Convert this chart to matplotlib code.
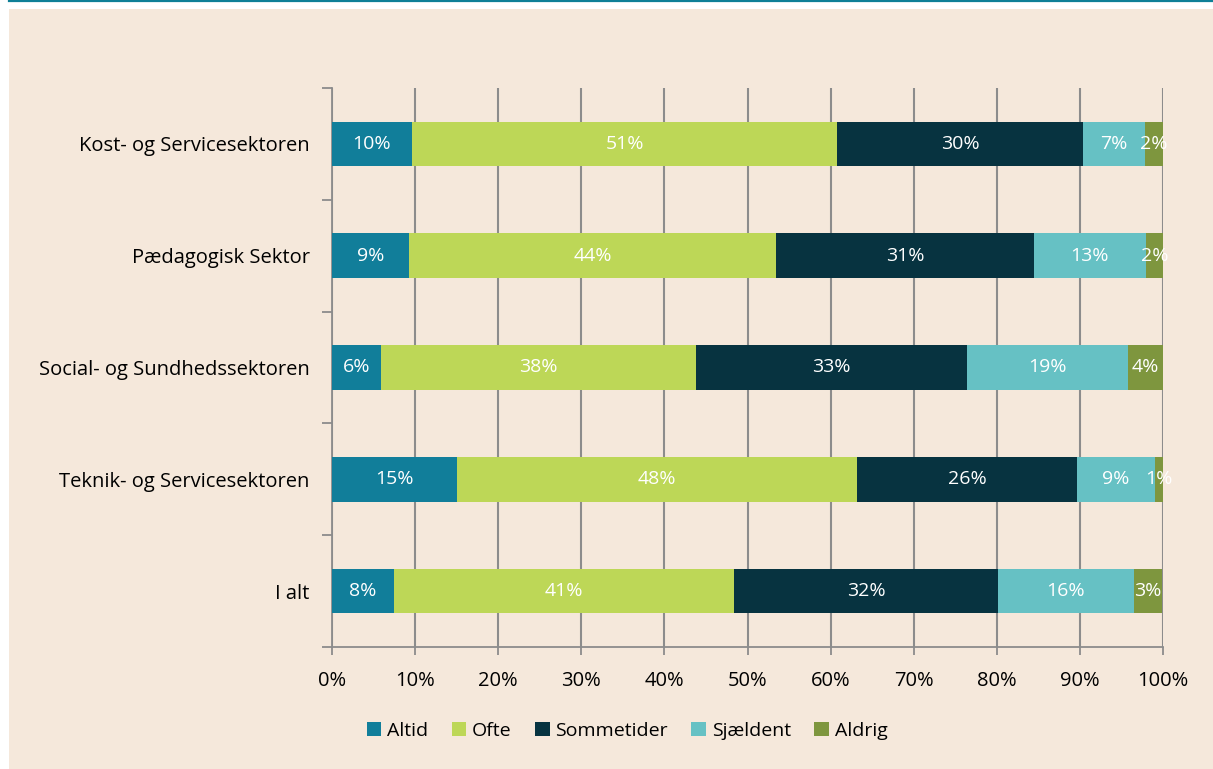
import matplotlib.pyplot as plt
from matplotlib.patches import Rectangle
import numpy as np

plt.rcParams['font.family'] = ['Open Sans', 'DejaVu Sans']

sektorer = ['Kost- og Servicesektoren', 'Pædagogisk Sektor',
            'Social- og Sundhedssektoren', 'Teknik- og Servicesektoren', 'I alt']
svar = ['Altid', 'Ofte', 'Sommetider', 'Sjældent', 'Aldrig']

altid = [9.6, 9.3, 5.9, 15.0, 7.5]
ofte = [51.2, 44.1, 37.9, 48.2, 40.9]
sommetider = [29.6, 31.1, 32.6, 26.5, 31.7]
sjaeldent = [7.4, 13.4, 19.4, 9.3, 16.4]
aldrig = [2.2, 2.1, 4.2, 1.0, 3.4]

farver = ['#117e9a', '#bdd757', '#073340', '#66c1c4', '#7e963e']
bg = '#f5e8db'

fig = plt.figure(figsize=(12.13, 7.69), dpi=100)
fig.patch.set_facecolor(bg)
# hvid kant til venstre og foroven, teal linje i toppen
fig.add_artist(Rectangle((0, 0), 9 / 1213, 1, transform=fig.transFigure,
                         facecolor='white', edgecolor='none', zorder=-5))
fig.add_artist(Rectangle((0, 1 - 9 / 769), 1, 9 / 769, transform=fig.transFigure,
                         facecolor='white', edgecolor='none', zorder=-5))
fig.add_artist(plt.Line2D([9 / 1213, 1], [1 - 1 / 769, 1 - 1 / 769], color='#0e7f96',
                          lw=1.6, transform=fig.transFigure, zorder=-4))

ax = fig.add_axes([332 / 1213, 1 - 647 / 769, 831 / 1213, 559 / 769])
ax.set_facecolor('none')

y = np.arange(len(sektorer))
left = np.zeros(len(sektorer))
for navn, vals, c in zip(svar, [altid, ofte, sommetider, sjaeldent, aldrig], farver):
    vals = np.array(vals)
    ax.barh(y, vals, left=left, height=0.4, color=c, label=navn, zorder=3)
    for yi, l, v in zip(y, left, vals):
        ax.text(l + v / 2, yi, f'{round(v):.0f}%', ha='center', va='center',
                color='white', fontsize=14, zorder=4)
    left += vals

ax.set_xlim(0, 100)
ax.set_ylim(4.5, -0.5)
ax.set_xticks(np.arange(0, 101, 10))
ax.set_xticklabels([f'{t}%' for t in range(0, 101, 10)])
ax.set_yticks(y)
ax.set_yticklabels(sektorer)
ax.set_yticks(np.arange(-0.5, 5, 1), minor=True)
ax.tick_params(axis='y', which='major', length=0, pad=16, labelsize=14.5)
ax.tick_params(axis='y', which='minor', length=7, color='#8c8c8c', width=1.3)
ax.tick_params(axis='x', length=6, color='#8c8c8c', width=1.3, labelsize=14.5, pad=11)
ax.grid(axis='x', color='#8c8c8c', lw=1.5, zorder=1)
for s in ['top', 'right']:
    ax.spines[s].set_visible(False)
for s in ['left', 'bottom']:
    ax.spines[s].set_color('#8c8c8c')
    ax.spines[s].set_linewidth(1.3)

fig.legend(loc='center', bbox_to_anchor=(627 / 1213, 1 - 731 / 769), ncol=5,
           frameon=False, fontsize=14, handlelength=0.75, handleheight=0.75,
           handletextpad=0.3, columnspacing=1.2)

fig.savefig('out.png', dpi=100, facecolor=fig.get_facecolor())
